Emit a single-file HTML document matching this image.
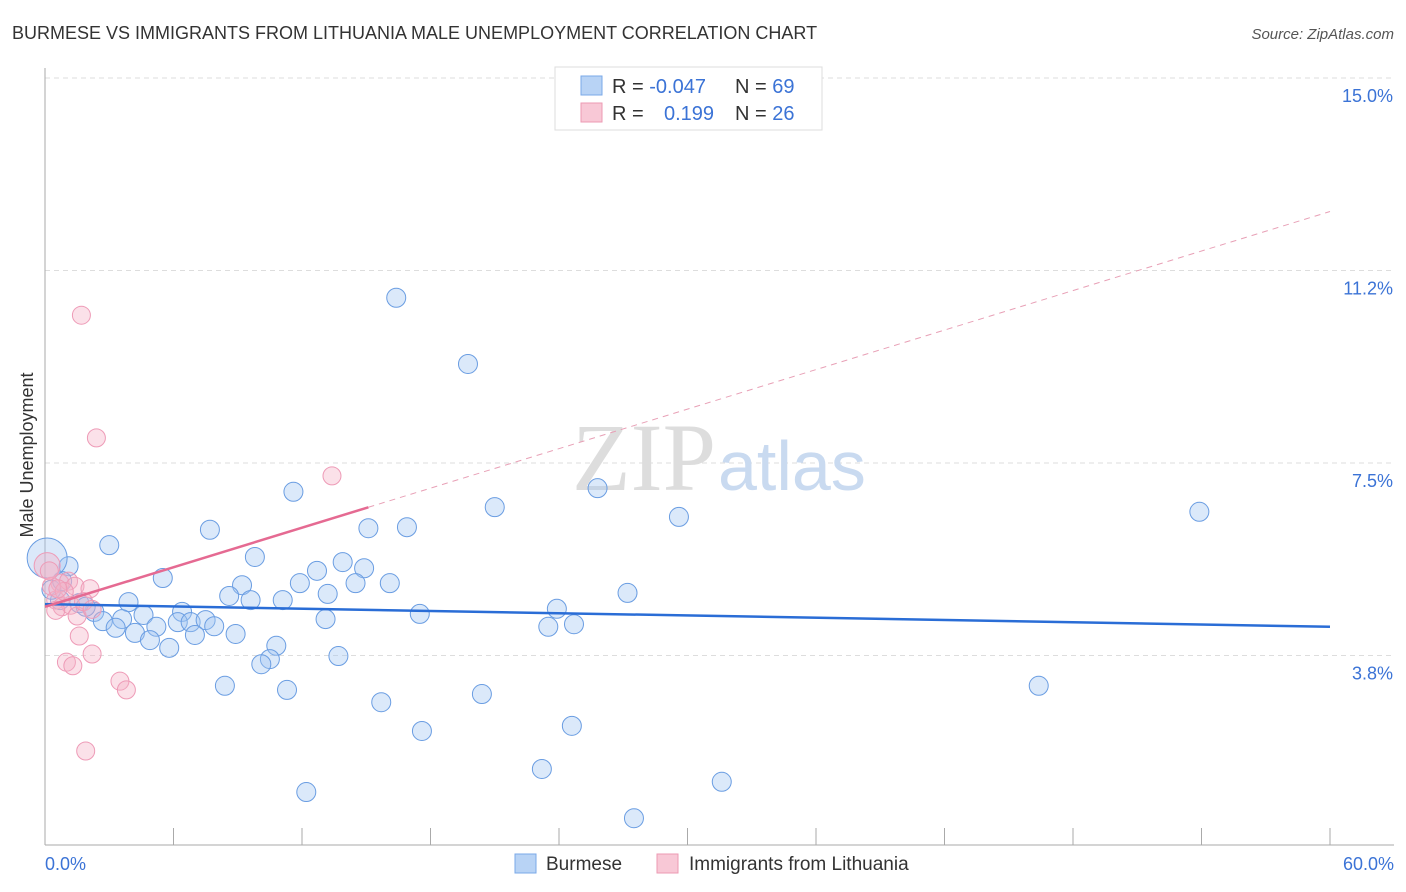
<!DOCTYPE html>
<html><head><meta charset="utf-8"><style>
body{margin:0;background:#fff;font-family:"Liberation Sans",sans-serif;}
svg{display:block}
</style></head><body>
<svg id="chart" width="1406" height="892" xmlns="http://www.w3.org/2000/svg">
<text x="12" y="39" font-size="18" fill="#333">BURMESE VS IMMIGRANTS FROM LITHUANIA MALE UNEMPLOYMENT CORRELATION CHART</text>
<text x="1394" y="39" font-size="15" fill="#555" font-style="italic" text-anchor="end">Source: ZipAtlas.com</text>
<g id="grid"></g>
<text x="716" y="490" font-size="96" fill="#ddd" text-anchor="end" font-family="Liberation Serif,serif">ZIP</text>
<text x="718" y="490" font-size="70" fill="#c9daf0">atlas</text>
<g id="axes"></g>
<g id="marks"></g>
<text x="33" y="455" font-size="18" fill="#333" text-anchor="middle" transform="rotate(-90 33 455)">Male Unemployment</text>
<g>
<rect x="555" y="67" width="267" height="63" fill="#fff" stroke="#ddd"/>
<rect x="581" y="76" width="21" height="19" fill="#b8d3f5" stroke="#7aa8e8"/>
<rect x="581" y="103" width="21" height="19" fill="#f8c8d6" stroke="#ec9ab3"/>
<text x="612" y="93" font-size="20" fill="#333">R = <tspan fill="#3b73d6">-0.047</tspan><tspan x="735">N = </tspan><tspan fill="#3b73d6">69</tspan></text>
<text x="612" y="120" font-size="20" fill="#333">R = <tspan x="664" fill="#3b73d6">0.199</tspan><tspan x="735">N = </tspan><tspan fill="#3b73d6">26</tspan></text>
</g>
<g>
<rect x="515" y="854" width="21" height="19" fill="#b8d3f5" stroke="#7aa8e8"/>
<text x="546" y="870" font-size="19" fill="#333">Burmese</text>
<rect x="657" y="854" width="21" height="19" fill="#f8c8d6" stroke="#ec9ab3"/>
<text x="689" y="870" font-size="19" fill="#333">Immigrants from Lithuania</text>
</g>
</svg>
<script>
const yTicks=[3.75,7.5,11.25,15];
const yTickLabels=["3.8%","7.5%","11.2%","15.0%"];
const xTickLabels=["0.0%","60.0%"];
const burmeseX=[16.4,19.75,11.6,25.8,21.0,29.6,53.9,7.7,15.1,16.9,3.0,9.8,13.9,14.9,12.7,1.1,5.5,9.2,11.9,14.5,16.1,8.6,9.6,13.2,11.1,27.2,23.9,17.5,3.9,2.3,1.6,0.7,3.6,4.6,6.4,6.2,6.8,7.5,2.7,3.3,4.2,5.2,4.9,5.8,7.0,7.9,8.9,13.1,23.5,24.7,10.8,10.5,10.1,13.7,8.4,11.3,46.4,20.4,15.7,24.6,17.6,23.2,31.6,12.2,27.5,0.3,0.8,1.9,0.1];
const burmeseY=[10.72,9.43,6.94,7.01,6.64,6.45,6.55,6.20,6.23,6.25,5.90,5.67,5.57,5.45,5.40,5.49,5.26,5.12,5.16,5.16,5.16,4.91,4.83,4.95,4.83,4.97,4.66,4.56,4.79,4.60,4.77,4.83,4.46,4.54,4.60,4.40,4.40,4.44,4.42,4.29,4.19,4.31,4.05,3.90,4.15,4.32,4.17,4.46,4.31,4.36,3.94,3.68,3.58,3.74,3.16,3.08,3.16,3.00,2.84,2.38,2.28,1.54,1.29,1.09,0.58,5.03,5.20,4.70,5.65];
const lithX=[1.7,2.4,13.4,0.1,0.7,1.1,1.4,2.1,0.5,0.8,1.2,1.5,0.5,1.6,2.2,1.0,1.3,3.5,3.8,1.9,0.3,0.9,1.8,0.2,2.2,0.6];
const lithY=[10.38,7.99,7.25,5.50,5.16,5.20,5.10,5.05,4.83,4.70,4.73,4.52,4.63,4.13,3.78,3.62,3.55,3.25,3.08,1.89,5.10,5.00,4.80,5.40,4.65,5.05];
const lithR=[9,9,9,13,9,9,9,9,9,9,9,9,9,9,9,9,9,9,9,9,9,9,9,9,9,9];
const burmeseTrend=[4.75,4.31];
const lithTrend=[4.7,12.4];
const NS='http://www.w3.org/2000/svg';
const X0=45,X1=1330,Y0=848,PPY=51.33;
function sx(v){return X0+(X1-X0)*v/60;}
function sy(v){return Y0-PPY*v;}
function mk(t,a,p){const e=document.createElementNS(NS,t);for(const k in a)e.setAttribute(k,a[k]);p.appendChild(e);return e;}
const grid=document.getElementById('grid'),axes=document.getElementById('axes'),marks=document.getElementById('marks');
yTicks.forEach((v,i)=>{
 const l=mk('line',{x1:45,x2:1394,y1:sy(v),y2:sy(v),stroke:'#ddd','stroke-dasharray':'5,4'},grid);
 
 
 const t=mk('text',{x:1393,y:sy(v)+24,'font-size':18,fill:'#3b73d6','text-anchor':'end'},axes);
 t.textContent=yTickLabels[i];
 
 
});
mk('line',{x1:45,x2:45,y1:68,y2:845,stroke:'#aaa'},axes);
mk('line',{x1:45,x2:1394,y1:845,y2:845,stroke:'#aaa'},axes);
for(let i=0;i<=10;i++){const x=45+i*128.5;const l=mk('line',{x1:x,x2:x,y1:828,y2:845,stroke:'#aaa'},axes);}
[[45,'start'],[1394,'end']].forEach((p,i)=>{const t=mk('text',{x:p[0],y:870,'font-size':18,fill:'#3b73d6','text-anchor':p[1]},axes);t.textContent=xTickLabels[i];});
burmeseX.forEach((v,i)=>{
 const r=(i===burmeseX.length-1)?20:9.5;
 const c=mk('circle',{cx:sx(v),cy:sy(burmeseY[i]),r:r,fill:'rgba(160,196,242,0.38)',stroke:'#6a9de2','stroke-width':1},marks);
 
 
});
lithX.forEach((v,i)=>{
 const c=mk('circle',{cx:sx(v),cy:sy(lithY[i]),r:lithR[i],fill:'rgba(245,175,198,0.38)',stroke:'#ee9bb7','stroke-width':1},marks);
 
 
});
const bl=mk('line',{x1:sx(0),y1:sy(burmeseTrend[0]),x2:sx(60),y2:sy(burmeseTrend[1]),stroke:'#2a6dd6','stroke-width':2.5},marks);


const ly=x=>lithTrend[0]+(lithTrend[1]-lithTrend[0])*x/60;
const ld=mk('line',{x1:sx(15.1),y1:sy(ly(15.1)),x2:sx(60),y2:sy(ly(60)),stroke:'#e8a0b6','stroke-width':1,'stroke-dasharray':'6,5'},marks);


const ls=mk('line',{x1:sx(0),y1:sy(ly(0)),x2:sx(15.1),y2:sy(ly(15.1)),stroke:'#e56a92','stroke-width':2.5},marks);


</script>
</body></html>
